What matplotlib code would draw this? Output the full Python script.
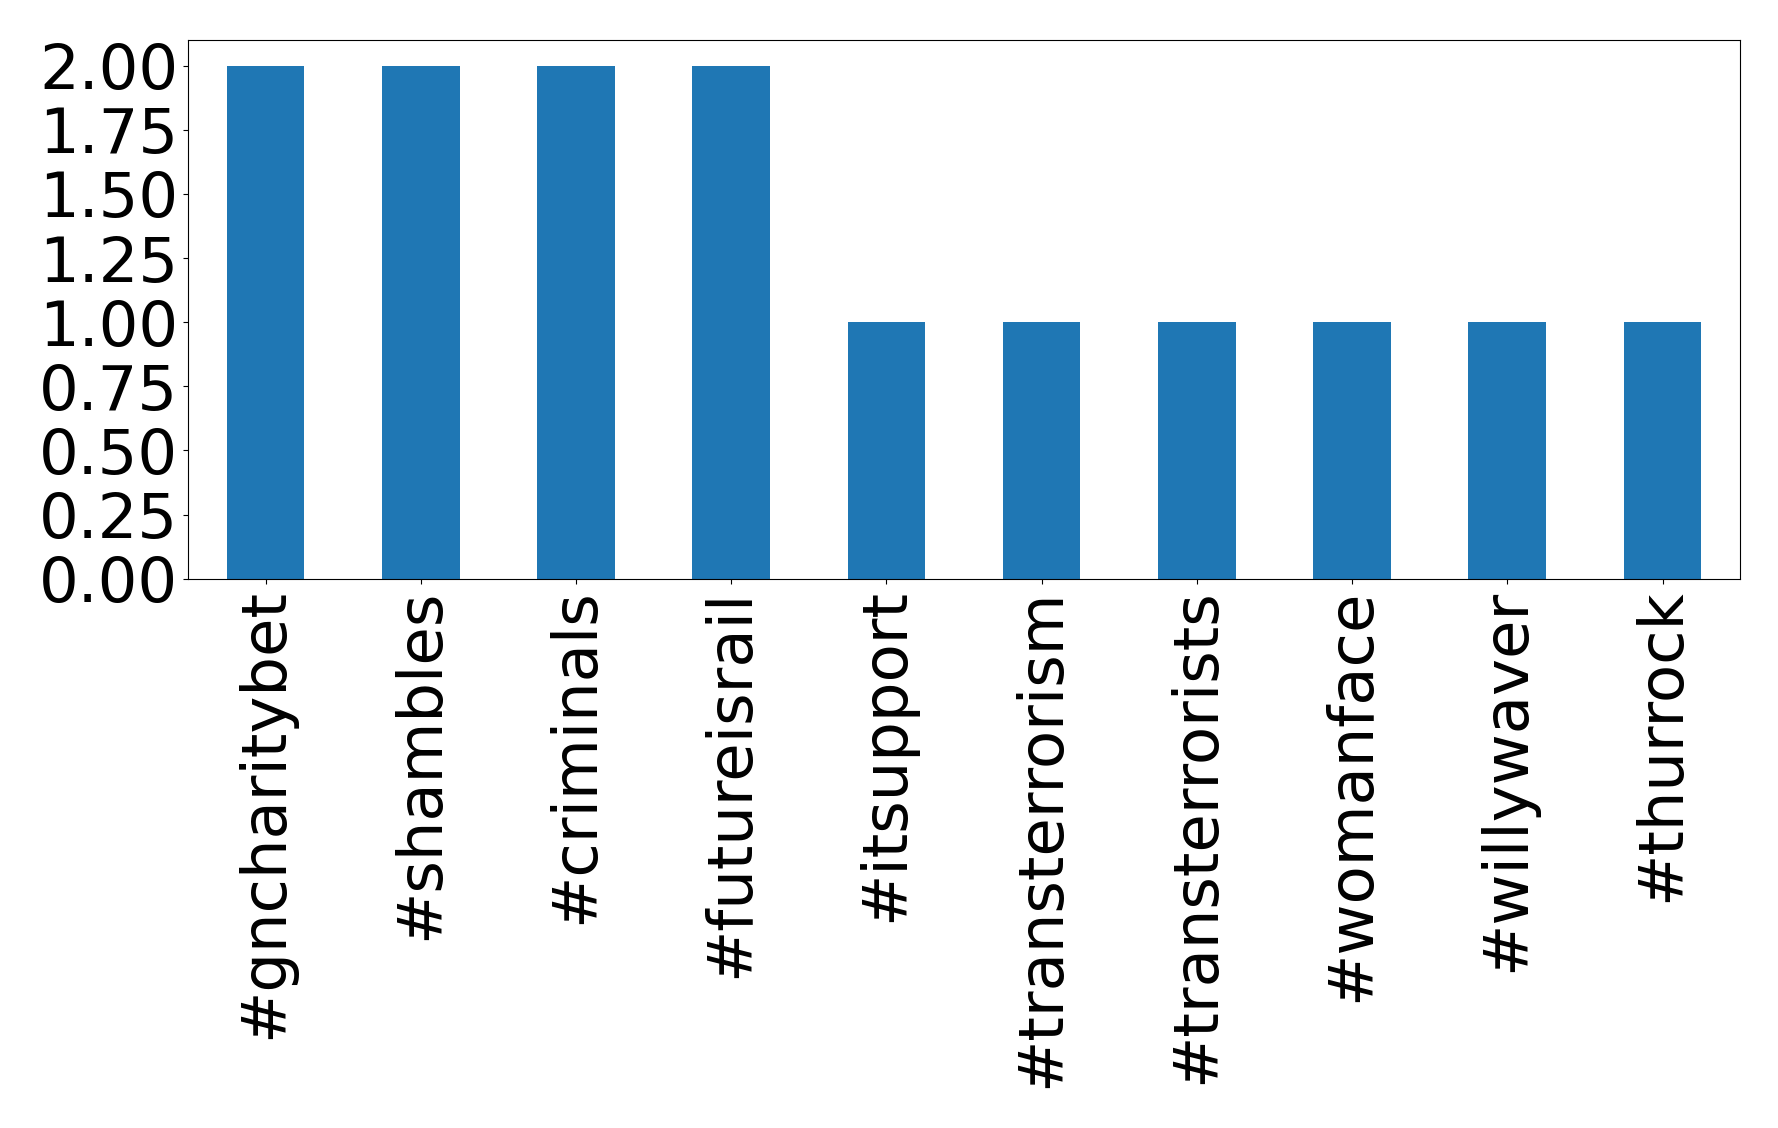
import matplotlib.pyplot as plt

hashtags = ['#gncharitybet', '#shambles', '#criminals', '#futureisrail', '#itsupport',
            '#transterrorism', '#transterrorists', '#womanface', '#willywaver', '#thurrock']
counts = [2, 2, 2, 2, 1, 1, 1, 1, 1, 1]

fig = plt.figure(figsize=(17.78, 11.28), dpi=100)
ax = fig.add_axes([0.1057, 0.487, 0.873, 0.4775])

x = range(len(hashtags))
ax.bar(x, counts, width=0.5, color='#1f77b4')
ax.set_xlim(-0.5, len(hashtags) - 0.5)
ax.set_ylim(0, 2.1)
ax.set_yticks([0, 0.25, 0.5, 0.75, 1.0, 1.25, 1.5, 1.75, 2.0])
ax.set_yticklabels(['%.2f' % v for v in ax.get_yticks()])
ax.set_xticks(list(x))
ax.set_xticklabels(hashtags, rotation=90)
ax.tick_params(labelsize=45)

fig.savefig('out.png', dpi=100)
